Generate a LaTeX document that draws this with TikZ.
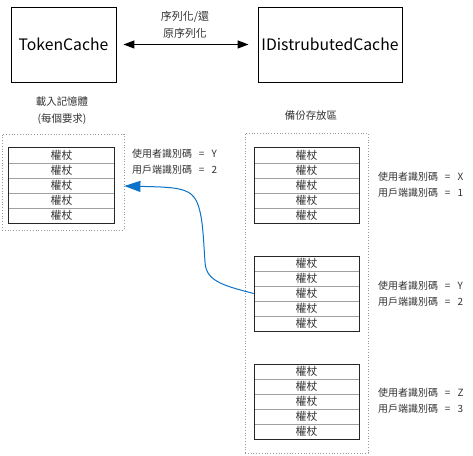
\documentclass[tikz,border=0pt]{standalone}
\usepackage{fontspec}
\setmainfont{Noto Sans CJK TC}
\usetikzlibrary{arrows.meta}
\definecolor{txt}{HTML}{333333}
\definecolor{sepgray}{HTML}{A0A0A0}
\definecolor{arrowblue}{HTML}{0A72C8}
\newcommand{\myeq}{\hspace{7bp}=\hspace{7bp}}
\tikzset{
  bigbox/.style={draw=black, line width=0.9bp, minimum width=#1, minimum height=75bp, inner sep=0pt, font=\fontsize{15.8}{19}\selectfont},
  container/.style={draw=gray!80, dotted, line width=0.8bp, inner sep=0pt},
  tbl/.style={draw=black!85, line width=1bp, minimum width=105bp, minimum height=75bp, inner sep=0pt},
  cell/.style={minimum width=105bp, minimum height=15bp, inner sep=0pt, text=txt, font=\fontsize{11}{12}\selectfont},
  sep/.style={draw=sepgray, line width=1.1bp},
  lbl/.style={text=txt, font=\fontsize{10.5}{17}\selectfont, align=center, inner sep=0pt},
  idlbl/.style={text=txt, font=\fontsize{10}{16.5}\selectfont, align=left, anchor=west, inner sep=0pt},
}
\begin{document}
\begin{tikzpicture}[x=1bp,y=-1bp]
\useasboundingbox (0,0) rectangle (473,456);
% top boxes
\node[bigbox=105bp] (tc) at (63.5,44.5) {TokenCache};
\node[bigbox=144bp] (idc) at (330,44.5) {IDistrubutedCache};
\draw[{Triangle[length=11bp,width=8bp]}-{Triangle[length=11bp,width=8bp]}, line width=1.2bp, shorten <=7bp, shorten >=9bp] (tc.east) -- (idc.west);
\node[lbl, font=\fontsize{11}{17}\selectfont] (ser) at (185,25) {序列化/還\\原序列化};
% containers
\node[container, minimum width=122bp, minimum height=96bp] (leftc) at (63,182) {};
\node[container, minimum width=123bp, minimum height=320bp] (rightc) at (306.5,293) {};
\node[lbl] (leftlbl) at (62,111) {載入記憶體\\(每個要求)};
\node[lbl] (rightlbl) at (311,116) {備份存放區};
% tables
\foreach \n/\cx/\y in {L/61.5/148, A/306.5/148, B/306.5/256, C/306.5/364} {
  \foreach \i in {1,...,5} {
    \node[cell] (\n\i) at (\cx,{\y+15*\i-7.5}) {權杖};
  }
  \foreach \i in {1,...,4} {
    \draw[sep] (\n\i.south west) -- (\n\i.south east);
  }
  \node[tbl] (\n) at (\cx,{\y+37.5}) {};
}
% id labels
\node[idlbl] (idL) at (132,162) {使用者識別碼\myeq Y\\用戶端識別碼\myeq 2};
\node[idlbl] (idA) at (378,185) {使用者識別碼\myeq X\\用戶端識別碼\myeq 1};
\node[idlbl] (idB) at (378,294) {使用者識別碼\myeq Y\\用戶端識別碼\myeq 2};
\node[idlbl] (idC) at (378,401) {使用者識別碼\myeq Z\\用戶端識別碼\myeq 3};
% blue connector
\draw[arrowblue, line width=1bp, -{Triangle[length=16bp,width=11bp]}]
  (B3.west) .. controls (220,285) and (206,280) .. (205,262)
  .. controls (203,235) and (203,205) .. (192,195)
  .. controls (184,187) and (165,187) .. ([yshift=-4bp]leftc.east);
\end{tikzpicture}
\end{document}
